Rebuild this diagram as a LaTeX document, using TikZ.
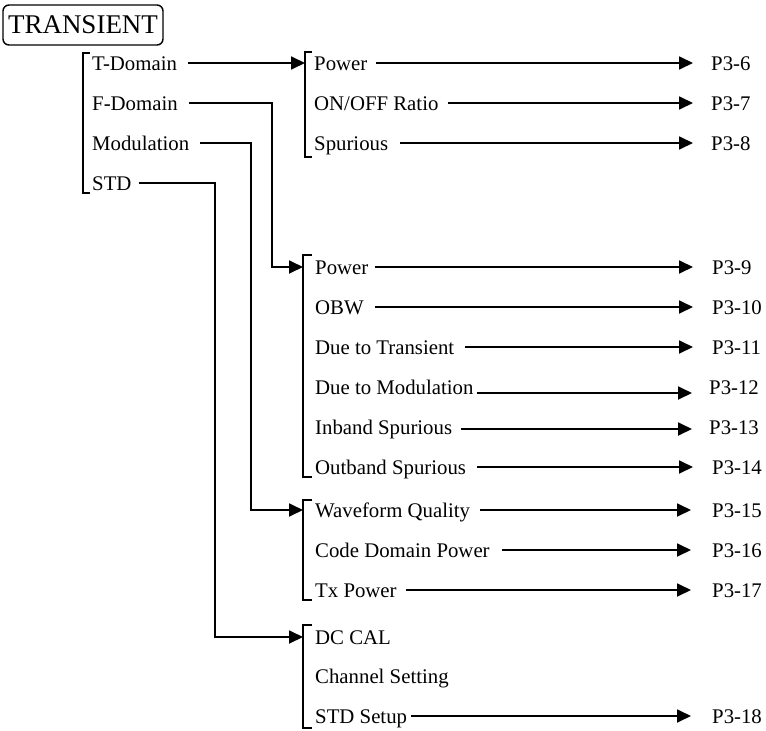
\documentclass[tikz,border=0pt]{standalone}
\usepackage{fontspec}
\setmainfont{Liberation Serif}
\usepackage{tikz}
\usetikzlibrary{arrows.meta,positioning}

\tikzset{
	item/.style={anchor=west, inner sep=0pt, text height=16pt, text depth=2pt, font=\fontsize{20.8}{24}\selectfont},
	page/.style={item},
	title/.style={draw, rounded corners=6pt, line width=1.4pt, inner sep=0pt, minimum width=160pt, minimum height=40pt, font=\fontsize{27}{30}\selectfont},
	link/.style={line width=1.8pt},
	arr/.style={link, -{Triangle[length=14pt,width=13pt]}},
	brace/.style={line width=1.8pt},
}

\begin{document}
\begin{tikzpicture}[x=1pt, y=-1pt]
		\useasboundingbox (0,0) rectangle (766,731);

		% Define nodes
		\node[title] (transient) at (83,25) {TRANSIENT};

		\node[item] (tdom) at (92,63) {T-Domain};
		\node[item] (fdom) at (92,103) {F-Domain};
		\node[item] (mod) at (92,143) {Modulation};
		\node[item] (std) at (92,183) {STD};

		\node[item] (tpow) at (314,63) {Power};
		\node[item] (tonoff) at (314,103) {ON/OFF Ratio};
		\node[item] (tspur) at (314,143) {Spurious};

		\node[item] (fpow) at (315,267) {Power};
		\node[item] (fobw) at (315,307) {OBW};
		\node[item] (ftrans) at (315,347) {Due to Transient};
		\node[item] (fmod) at (315,387) {Due to Modulation};
		\node[item] (finband) at (315,427) {Inband Spurious};
		\node[item] (foutband) at (315,467) {Outband Spurious};

		\node[item] (mwave) at (315,510) {Waveform Quality};
		\node[item] (mcode) at (315,550) {Code Domain Power};
		\node[item] (mtx) at (315,590) {Tx Power};

		\node[item] (sdc) at (315,637) {DC CAL};
		\node[item] (schan) at (315,676) {Channel Setting};
		\node[item] (ssetup) at (315,716) {STD Setup};

		\node[page] (p6) at (711,63) {P3-6};
		\node[page] (p7) at (711,103) {P3-7};
		\node[page] (p8) at (711,143) {P3-8};
		\node[page] (p9) at (712,267) {P3-9};
		\node[page] (p10) at (712,307) {P3-10};
		\node[page] (p11) at (712,347) {P3-11};
		\node[page] (p12) at (709,387) {P3-12};
		\node[page] (p13) at (709,427) {P3-13};
		\node[page] (p14) at (712,467) {P3-14};
		\node[page] (p15) at (712,510) {P3-15};
		\node[page] (p16) at (712,550) {P3-16};
		\node[page] (p17) at (712,590) {P3-17};
		\node[page] (p18) at (712,716) {P3-18};

		% Brackets
		\draw[brace] ([xshift=-2pt,yshift=10pt]tdom.west) -- ++(-7,0) |- ([xshift=-2pt,yshift=-10pt]std.west);
		\draw[brace] ([xshift=-2pt,yshift=11pt]tpow.west) -- ++(-7,0) |- ([xshift=-2pt,yshift=-14pt]tspur.west);
		\draw[brace] ([xshift=-3pt,yshift=12pt]fpow.west) -- ++(-9,0) |- ([xshift=-3pt,yshift=-10pt]foutband.west);
		\draw[brace] ([xshift=-3pt,yshift=10pt]mwave.west) -- ++(-9,0) |- ([xshift=-3pt,yshift=-10pt]mtx.west);
		\draw[brace] ([xshift=-3pt,yshift=12pt]sdc.west) -- ++(-9,0) |- ([xshift=-3pt,yshift=-12pt]ssetup.west);

		% Connect the nodes
		\draw[arr] ([xshift=11pt]tdom.east) -- ([xshift=-9pt]tpow.west);
		\draw[arr] ([xshift=11pt]fdom.east) -| ([xshift=-43pt]fpow.west) -- ([xshift=-12pt]fpow.west);
		\draw[arr] ([xshift=11pt]mod.east) -| ([xshift=-64pt]mwave.west) -- ([xshift=-12pt]mwave.west);
		\draw[arr] ([xshift=7pt]std.east) -| ([xshift=-100pt]sdc.west) -- ([xshift=-12pt]sdc.west);

		\draw[arr] ([xshift=8pt]tpow.east) -- ([xshift=-18pt]p6.west);
		\draw[arr] ([xshift=9pt]tonoff.east) -- ([xshift=-18pt]p7.west);
		\draw[arr] ([xshift=12pt]tspur.east) -- ([xshift=-18pt]p8.west);

		\draw[arr] ([xshift=6pt]fpow.east) -- ([xshift=-19pt]p9.west);
		\draw[arr] ([xshift=11pt]fobw.east) -- ([xshift=-19pt]p10.west);
		\draw[arr] ([xshift=11pt]ftrans.east) -- ([xshift=-19pt]p11.west);
		\draw[arr] ([xshift=3pt,yshift=-6pt]fmod.east) -- ([xshift=-17pt,yshift=-6pt]p12.west);
		\draw[arr] ([xshift=9pt,yshift=-2pt]finband.east) -- ([xshift=-17pt,yshift=-2pt]p13.west);
		\draw[arr] ([xshift=11pt]foutband.east) -- ([xshift=-19pt]p14.west);

		\draw[arr] ([xshift=10pt]mwave.east) -- ([xshift=-21pt]p15.west);
		\draw[arr] ([xshift=12pt]mcode.east) -- ([xshift=-21pt]p16.west);
		\draw[arr] ([xshift=9pt]mtx.east) -- ([xshift=-21pt]p17.west);
		\draw[arr] ([xshift=4pt]ssetup.east) -- ([xshift=-21pt]p18.west);
	\end{tikzpicture}
\end{document}
